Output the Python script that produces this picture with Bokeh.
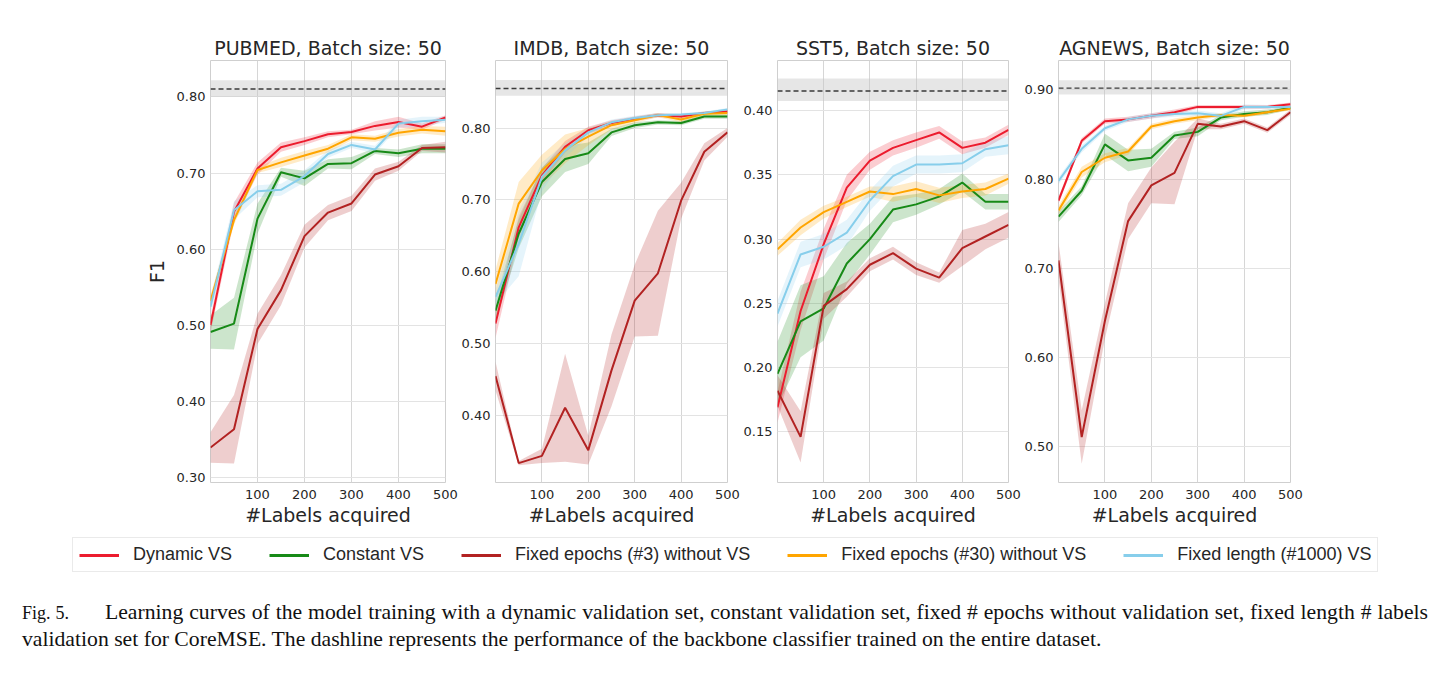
import numpy as np
from bokeh.plotting import figure
from bokeh.models import (Range1d, FixedTicker, Span, BoxAnnotation, Legend,
                          LegendItem, Div, PrintfTickFormatter)
from bokeh.layouts import column, row
from bokeh.embed import file_html
from bokeh.resources import INLINE

# ---------------- data ----------------
labels_acquired = [0, 50, 100, 150, 200, 250, 300, 350, 400, 450, 500]
x_ticks = [100, 200, 300, 400, 500]

series_names = ["Dynamic VS", "Constant VS", "Fixed epochs (#3) without VS",
                "Fixed epochs (#30) without VS", "Fixed length (#1000) VS"]
series_colors = ["#ec1c2e", "#178a17", "#b22222", "#ffa500", "#87ceeb"]

titles = ["PUBMED, Batch size: 50", "IMDB, Batch size: 50",
          "SST5, Batch size: 50", "AGNEWS, Batch size: 50"]

# full-dataset performance (dashline) and its band
full_mean = [0.8105, 0.855, 0.4153, 0.902]
full_lo = [0.800, 0.845, 0.4075, 0.895]
full_hi = [0.822, 0.867, 0.425, 0.911]

pubmed_ticks = [0.30, 0.40, 0.50, 0.60, 0.70, 0.80]
imdb_ticks = [0.40, 0.50, 0.60, 0.70, 0.80]
sst5_ticks = [0.15, 0.20, 0.25, 0.30, 0.35, 0.40]
agnews_ticks = [0.50, 0.60, 0.70, 0.80, 0.90]

# PUBMED
pubmed_dynamic = [0.500, 0.649, 0.706, 0.734, 0.742, 0.751, 0.754, 0.762, 0.767, 0.761, 0.773]
pubmed_dynamic_err = [0.010, 0.012, 0.008, 0.006, 0.005, 0.004, 0.003, 0.006, 0.007, 0.004, 0.003]
pubmed_constant = [0.491, 0.502, 0.640, 0.701, 0.693, 0.712, 0.713, 0.729, 0.726, 0.732, 0.732]
pubmed_constant_err = [0.022, 0.034, 0.020, 0.006, 0.010, 0.006, 0.008, 0.004, 0.005, 0.006, 0.006]
pubmed_fixed3 = [0.339, 0.363, 0.495, 0.546, 0.617, 0.648, 0.660, 0.698, 0.709, 0.733, 0.734]
pubmed_fixed3_err = [0.020, 0.045, 0.020, 0.020, 0.015, 0.010, 0.010, 0.008, 0.006, 0.004, 0.007]
pubmed_fixed30 = [0.532, 0.638, 0.704, 0.714, 0.723, 0.732, 0.747, 0.745, 0.753, 0.757, 0.755]
pubmed_fixed30_err = [0.008, 0.006, 0.004, 0.006, 0.006, 0.005, 0.004, 0.004, 0.005, 0.005, 0.006]
pubmed_fixedlen = [0.524, 0.651, 0.676, 0.678, 0.696, 0.725, 0.737, 0.731, 0.765, 0.768, 0.770]
pubmed_fixedlen_err = [0.010, 0.012, 0.008, 0.008, 0.008, 0.005, 0.004, 0.005, 0.005, 0.006, 0.004]

# IMDB
imdb_dynamic = [0.528, 0.662, 0.734, 0.774, 0.797, 0.807, 0.813, 0.818, 0.816, 0.821, 0.823]
imdb_dynamic_err = [0.020, 0.015, 0.010, 0.008, 0.005, 0.004, 0.003, 0.003, 0.003, 0.002, 0.002]
imdb_constant = [0.546, 0.653, 0.725, 0.757, 0.765, 0.794, 0.804, 0.808, 0.807, 0.816, 0.816]
imdb_constant_err = [0.015, 0.020, 0.020, 0.018, 0.015, 0.005, 0.004, 0.003, 0.003, 0.003, 0.003]
imdb_fixed3 = [0.455, 0.334, 0.344, 0.411, 0.352, 0.463, 0.560, 0.598, 0.699, 0.767, 0.794]
imdb_fixed3_err = [0.020, 0.003, 0.010, 0.075, 0.020, 0.050, 0.050, 0.087, 0.025, 0.012, 0.006]
imdb_fixed30 = [0.583, 0.695, 0.741, 0.771, 0.788, 0.804, 0.811, 0.818, 0.812, 0.820, 0.821]
imdb_fixed30_err = [0.020, 0.030, 0.022, 0.020, 0.012, 0.006, 0.004, 0.003, 0.004, 0.003, 0.003]
imdb_fixedlen = [0.565, 0.639, 0.732, 0.769, 0.794, 0.808, 0.814, 0.818, 0.819, 0.821, 0.826]
imdb_fixedlen_err = [0.010, 0.045, 0.020, 0.010, 0.006, 0.004, 0.003, 0.003, 0.002, 0.002, 0.002]

# SST5
sst5_dynamic = [0.169, 0.244, 0.296, 0.340, 0.361, 0.371, 0.377, 0.383, 0.371, 0.375, 0.385]
sst5_dynamic_err = [0.012, 0.015, 0.012, 0.010, 0.007, 0.006, 0.006, 0.005, 0.005, 0.004, 0.004]
sst5_constant = [0.195, 0.236, 0.246, 0.281, 0.300, 0.323, 0.327, 0.333, 0.344, 0.329, 0.329]
sst5_constant_err = [0.025, 0.028, 0.025, 0.016, 0.012, 0.010, 0.008, 0.006, 0.007, 0.006, 0.006]
sst5_fixed3 = [0.182, 0.146, 0.248, 0.261, 0.280, 0.289, 0.277, 0.270, 0.293, 0.302, 0.311]
sst5_fixed3_err = [0.012, 0.020, 0.010, 0.006, 0.005, 0.005, 0.005, 0.004, 0.014, 0.010, 0.010]
sst5_fixed30 = [0.292, 0.309, 0.321, 0.329, 0.337, 0.335, 0.339, 0.334, 0.337, 0.339, 0.347]
sst5_fixed30_err = [0.005, 0.006, 0.005, 0.004, 0.004, 0.006, 0.006, 0.006, 0.005, 0.005, 0.004]
sst5_fixedlen = [0.242, 0.288, 0.294, 0.305, 0.330, 0.349, 0.358, 0.358, 0.359, 0.370, 0.373]
sst5_fixedlen_err = [0.010, 0.010, 0.010, 0.010, 0.008, 0.008, 0.007, 0.007, 0.007, 0.006, 0.007]

# AGNEWS
agnews_dynamic = [0.776, 0.843, 0.865, 0.867, 0.871, 0.875, 0.881, 0.881, 0.881, 0.881, 0.884]
agnews_dynamic_err = [0.004, 0.003, 0.003, 0.003, 0.003, 0.003, 0.002, 0.002, 0.002, 0.002, 0.002]
agnews_constant = [0.758, 0.787, 0.839, 0.821, 0.824, 0.849, 0.853, 0.869, 0.873, 0.875, 0.880]
agnews_constant_err = [0.006, 0.005, 0.012, 0.012, 0.010, 0.004, 0.005, 0.003, 0.003, 0.003, 0.002]
agnews_fixed3 = [0.709, 0.511, 0.641, 0.753, 0.793, 0.807, 0.862, 0.859, 0.865, 0.855, 0.875]
agnews_fixed3_err = [0.020, 0.030, 0.020, 0.020, 0.020, 0.035, 0.006, 0.003, 0.003, 0.003, 0.003]
agnews_fixed30 = [0.765, 0.808, 0.824, 0.831, 0.859, 0.865, 0.869, 0.872, 0.871, 0.875, 0.879]
agnews_fixed30_err = [0.005, 0.006, 0.005, 0.004, 0.003, 0.003, 0.003, 0.002, 0.002, 0.002, 0.002]
agnews_fixedlen = [0.798, 0.834, 0.857, 0.867, 0.871, 0.873, 0.874, 0.871, 0.881, 0.881, 0.881]
agnews_fixedlen_err = [0.004, 0.004, 0.003, 0.003, 0.003, 0.003, 0.003, 0.003, 0.003, 0.002, 0.002]

caption_head = "Fig. 5."
caption_line1 = ("Learning curves of the model training with a dynamic validation set, constant "
                 "validation set, fixed # epochs without validation set, fixed length # labels")
caption_line2 = ("validation set for CoreMSE. The dashline represents the performance of the "
                 "backbone classifier trained on the entire dataset.")

# ---------------- styling / layout ----------------
panels = [
    (titles[0], [pubmed_dynamic, pubmed_constant, pubmed_fixed3, pubmed_fixed30, pubmed_fixedlen],
     [pubmed_dynamic_err, pubmed_constant_err, pubmed_fixed3_err, pubmed_fixed30_err, pubmed_fixedlen_err],
     (0.293, 0.848), pubmed_ticks),
    (titles[1], [imdb_dynamic, imdb_constant, imdb_fixed3, imdb_fixed30, imdb_fixedlen],
     [imdb_dynamic_err, imdb_constant_err, imdb_fixed3_err, imdb_fixed30_err, imdb_fixedlen_err],
     (0.307, 0.894), imdb_ticks),
    (titles[2], [sst5_dynamic, sst5_constant, sst5_fixed3, sst5_fixed30, sst5_fixedlen],
     [sst5_dynamic_err, sst5_constant_err, sst5_fixed3_err, sst5_fixed30_err, sst5_fixedlen_err],
     (0.1105, 0.439), sst5_ticks),
    (titles[3], [agnews_dynamic, agnews_constant, agnews_fixed3, agnews_fixed30, agnews_fixedlen],
     [agnews_dynamic_err, agnews_constant_err, agnews_fixed3_err, agnews_fixed30_err, agnews_fixedlen_err],
     (0.46, 0.933), agnews_ticks),
]

TXT = "#262626"
FRAME_W, FRAME_H = 235, 422
BORDER_TOP, BORDER_BOTTOM, BORDER_RIGHT = 60, 47, 13
left_borders = [210, 34, 33, 34]

figs = []
for i, (title, ys, errs, yr, yt) in enumerate(panels):
    lb = left_borders[i]
    p = figure(width=lb + FRAME_W + BORDER_RIGHT, height=BORDER_TOP + FRAME_H + BORDER_BOTTOM,
               x_range=Range1d(labels_acquired[0], labels_acquired[-1]),
               y_range=Range1d(*yr), output_backend="svg", toolbar_location=None,
               min_border_left=lb, min_border_right=BORDER_RIGHT,
               min_border_top=BORDER_TOP, min_border_bottom=BORDER_BOTTOM, title=title)
    p.title.text_font = "DejaVu Sans"
    p.title.text_font_size = "19px"
    p.title.text_font_style = "normal"
    p.title.text_color = TXT
    p.title.align = "center"
    p.title.standoff = 4
    p.outline_line_color = "#cfcfcf"
    p.outline_line_width = 1
    p.background_fill_color = "white"
    p.border_fill_color = "white"

    p.xaxis.ticker = FixedTicker(ticks=x_ticks)
    p.yaxis.ticker = FixedTicker(ticks=yt)
    p.yaxis.formatter = PrintfTickFormatter(format="%.2f")
    p.xaxis.axis_label = "#Labels acquired"
    if i == 0:
        p.yaxis.axis_label = "F1"
    for ax in (p.xaxis[0], p.yaxis[0]):
        ax.axis_line_color = None
        ax.major_tick_line_color = None
        ax.minor_tick_line_color = None
        ax.major_tick_out = 0
        ax.major_tick_in = 0
        ax.minor_tick_out = 0
        ax.minor_tick_in = 0
        ax.major_label_text_font = "DejaVu Sans"
        ax.major_label_text_font_size = "13px"
        ax.major_label_text_color = TXT
        ax.axis_label_text_font = "DejaVu Sans"
        ax.axis_label_text_font_size = "19px"
        ax.axis_label_text_font_style = "normal"
        ax.axis_label_text_color = TXT
    p.xaxis.major_label_standoff = 7
    p.yaxis.major_label_standoff = 5
    p.xaxis.axis_label_standoff = 2
    p.yaxis.axis_label_standoff = 6
    p.xgrid.grid_line_color = "#d6d6d6"
    p.ygrid.grid_line_color = "#e3e3e3"
    p.xgrid.ticker = FixedTicker(ticks=x_ticks)
    p.ygrid.ticker = FixedTicker(ticks=yt)

    band = BoxAnnotation(bottom=full_lo[i], top=full_hi[i], fill_color="#c8c8c8",
                         fill_alpha=0.45, line_color=None, level="underlay")
    p.add_layout(band)
    p.add_layout(Span(location=full_mean[i], dimension="width", line_color="#3a3a3a",
                      line_dash="5 3", line_width=1.4))

    for y, e, c in zip(ys, errs, series_colors):
        y = np.asarray(y)
        e = np.asarray(e)
        p.varea(x=labels_acquired, y1=y - e, y2=y + e, fill_color=c, fill_alpha=0.22)
    for y, c in zip(ys, series_colors):
        p.line(x=labels_acquired, y=y, line_color=c, line_width=2)
    figs.append(p)

# legend strip (placeholder renderers hold no visible points)
lg = figure(width=1420, height=43, output_backend="svg", toolbar_location=None,
            x_range=Range1d(0, 1), y_range=Range1d(0, 1),
            min_border_left=72, min_border_right=0, min_border_top=8, min_border_bottom=0)
lg.axis.visible = False
lg.grid.visible = False
lg.outline_line_color = None
lg.border_fill_color = "white"
items = []
for name, c in zip(series_names, series_colors):
    r = lg.line(x=[float("nan")], y=[float("nan")], line_color=c, line_width=3)
    items.append(LegendItem(label=name, renderers=[r]))
legend = Legend(items=items, orientation="horizontal", location="top_left",
                label_text_font="Liberation Sans", label_text_font_size="18px",
                label_text_color=TXT, glyph_width=40, glyph_height=20,
                label_standoff=14, spacing=37, padding=6, margin=0,
                border_line_color="#d6d6d6", border_line_width=1,
                background_fill_color="white", background_fill_alpha=1)
lg.add_layout(legend, "center")

cap_html = ("<div style=\"width:1406px;margin-left:22px;padding-top:27px;"
            "font-family:'Liberation Serif';font-size:21.7px;line-height:26px;color:#111;\">"
            "<div style='white-space:nowrap;text-align:justify;text-align-last:justify;'>"
            "<span style='font-size:18px;margin-right:36px'>" + caption_head + "</span>"
            "<span>" + caption_line1 + "</span></div>"
            "<div style='white-space:nowrap;'>" + caption_line2 + "</div></div>")
cap = Div(text=cap_html, width=1437, height=100, margin=0)

layout = column(row(*figs), lg, cap)
open("out.html", "w").write(file_html(layout, INLINE))
